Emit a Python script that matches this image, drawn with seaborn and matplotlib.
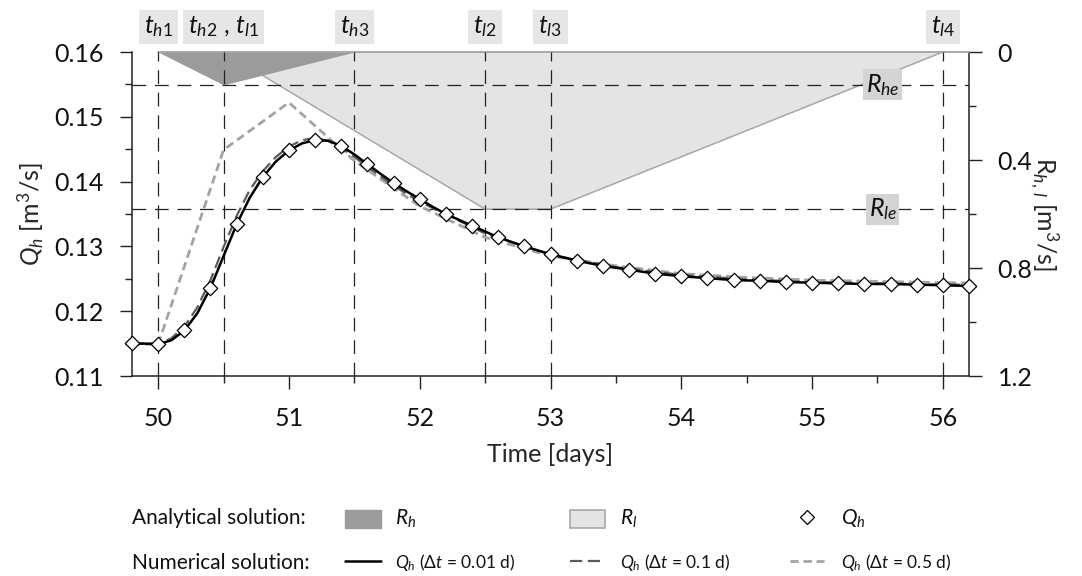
import numpy as np
import pandas as pd
import matplotlib
matplotlib.use("Agg")
import matplotlib.pyplot as plt
import seaborn as sns
from matplotlib.patches import Patch
from matplotlib.lines import Line2D
from matplotlib.transforms import blended_transform_factory

# ---------------- data ----------------
# event times (days) and their labels
t_events = [50.0, 50.5, 51.5, 52.5, 53.0, 56.0]
event_labels = [r"$t_{h1}$", r"$t_{h2}$ , $t_{l1}$", r"$t_{h3}$", r"$t_{l2}$", r"$t_{l3}$", r"$t_{l4}$"]

# thresholds on the R axis
R_he = 0.122
R_le = 0.582

# analytical R_h and R_l polygons (right axis, m3/s)
t_Rh = [50.0, 50.5, 51.5]
R_h = [0.0, R_he, 0.0]
t_Rl = [50.5, 52.5, 53.0, 56.0]
R_l = [0.0, R_le, R_le, 0.0]

# analytical Q_h (diamonds)
t_mark = [49.8, 50.0, 50.2, 50.4, 50.6, 50.8, 51.0, 51.2, 51.4, 51.6, 51.8, 52.0,
          52.2, 52.4, 52.6, 52.8, 53.0, 53.2, 53.4, 53.6, 53.8, 54.0, 54.2, 54.4,
          54.6, 54.8, 55.0, 55.2, 55.4, 55.6, 55.8, 56.0, 56.2]
q_mark = [0.1151, 0.1149, 0.1171, 0.1236, 0.1334, 0.1407, 0.1448, 0.1464, 0.1455,
          0.1427, 0.1398, 0.1373, 0.1350, 0.1332, 0.1314, 0.1300, 0.1288, 0.1278,
          0.1270, 0.1264, 0.1258, 0.1254, 0.1251, 0.1248, 0.1247, 0.1245, 0.1244,
          0.1243, 0.1242, 0.1242, 0.1241, 0.1240, 0.1239]

# numerical Q_h, dt = 0.01 d
t_q001 = [49.8, 49.9, 50.0, 50.1, 50.2, 50.3, 50.4, 50.5, 50.6, 50.7, 50.8, 50.9,
          51.0, 51.1, 51.2, 51.3, 51.4, 51.5, 51.6, 51.7, 51.8, 51.9, 52.0, 52.1,
          52.2, 52.3, 52.4, 52.5, 52.6, 52.8, 53.0, 53.2, 53.4, 53.6, 53.8, 54.0,
          54.2, 54.4, 54.6, 54.8, 55.0, 55.2, 55.4, 55.6, 55.8, 56.0, 56.2]
q_001 = [0.1150, 0.1150, 0.1149, 0.1155, 0.1170, 0.1197, 0.1236, 0.1285, 0.1334,
         0.1375, 0.1407, 0.1431, 0.1448, 0.1459, 0.1464, 0.1463, 0.1455, 0.1442,
         0.1427, 0.1412, 0.1398, 0.1385, 0.1373, 0.1361, 0.1350, 0.1341, 0.1332,
         0.1323, 0.1314, 0.1300, 0.1288, 0.1278, 0.1270, 0.1264, 0.1258, 0.1254,
         0.1251, 0.1248, 0.1247, 0.1245, 0.1244, 0.1243, 0.1242, 0.1242, 0.1241,
         0.1240, 0.1239]

# numerical Q_h, dt = 0.1 d
t_q01 = [49.8, 49.9, 50.0, 50.1, 50.2, 50.3, 50.4, 50.5, 50.6, 50.7, 50.8, 50.9,
         51.0, 51.1, 51.2, 51.3, 51.4, 51.5, 51.6, 51.7, 51.8, 51.9, 52.0, 52.5,
         53.0, 53.5, 54.0, 54.5, 55.0, 55.5, 56.0, 56.2]
q_01 = [0.1150, 0.1150, 0.1150, 0.1158, 0.1176, 0.1206, 0.1248, 0.1299, 0.1347,
        0.1387, 0.1416, 0.1438, 0.1454, 0.1464, 0.1467, 0.1463, 0.1452, 0.1438,
        0.1423, 0.1408, 0.1394, 0.1381, 0.1369, 0.1320, 0.1287, 0.1268, 0.1256,
        0.1249, 0.1245, 0.1243, 0.1241, 0.1241]

# numerical Q_h, dt = 0.5 d
t_q05 = [49.5, 50.0, 50.5, 51.0, 51.5, 52.0, 52.5, 53.0, 53.5, 54.0, 54.5, 55.0,
         55.5, 56.0, 56.5]
q_05 = [0.1150, 0.1149, 0.1449, 0.1522, 0.1432, 0.1362, 0.1314, 0.1285, 0.1270,
        0.1258, 0.1252, 0.1248, 0.1246, 0.1244, 0.1243]

q_ticks = [0.11, 0.12, 0.13, 0.14, 0.15, 0.16]
r_ticks = [0.0, 0.4, 0.8, 1.2]
r_ticklabels = ["0", "0.4", "0.8", "1.2"]
x_ticks = [50, 51, 52, 53, 54, 55, 56]

# ---------------- style ----------------
sns.set_theme(style="ticks")
FONT = "Lato"
plt.rcParams["font.family"] = [FONT, "DejaVu Sans"]
plt.rcParams["mathtext.fontset"] = "custom"
plt.rcParams["mathtext.rm"] = FONT
plt.rcParams["mathtext.it"] = FONT + ":italic"
plt.rcParams["mathtext.bf"] = FONT + ":bold"
plt.rcParams["axes.edgecolor"] = "#222222"
plt.rcParams["text.color"] = "#111111"

C_BLACK = "#000000"
C_DARK = "#5a5a5a"
C_LIGHT = "#a3a3a3"
C_RH = "#9b9b9b"
C_RL = "#e4e4e4"
C_RL_EDGE = "#a8a8a8"
FS = 18

W, H = 1082, 576
fig = plt.figure(figsize=(W / 100, H / 100), dpi=100)
ax = fig.add_axes([132 / W, 1 - 376 / H, (969 - 132) / W, 324 / H])
ax2 = ax.twinx()

# ---------------- right axis: analytical R ----------------
ax2.fill_between(t_Rl, 0, R_l, color=C_RL, lw=0, zorder=1)
ax2.plot(t_Rl, R_l, color=C_RL_EDGE, lw=1.1, zorder=2)
ax2.fill_between(t_Rh, 0, R_h, color=C_RH, lw=0, zorder=3)
ax2.plot([t_events[0], 56.2], [0, 0], color=C_RL_EDGE, lw=1.4, zorder=4, clip_on=False)
ax2.set_ylim(1.2, 0.0)
ax2.set_yticks(r_ticks)
ax2.set_yticklabels(r_ticklabels)
ax2.set_yticks([0.2, 0.6, 1.0], minor=True)
ax2.set_ylabel(r"R$_{h,\,l}$ [m$^3$/s]", fontsize=FS, rotation=270, labelpad=20)

# dashed thresholds
for r in (R_he, R_le):
    ax2.axhline(r, color="#222222", lw=0.9, ls=(0, (11, 7)), zorder=5)

# ---------------- left axis: Q ----------------
ax.set_zorder(ax2.get_zorder() + 1)
ax.patch.set_visible(False)

for t in t_events:
    ax.axvline(t, color="#222222", lw=0.9, ls=(0, (11, 7)), zorder=1)

sns.lineplot(x=t_q05, y=q_05, ax=ax, color=C_LIGHT, lw=2.0,
             linestyle=(0, (3.0, 1.7)), zorder=2)
sns.lineplot(x=t_q01, y=q_01, ax=ax, color=C_DARK, lw=1.6,
             linestyle=(0, (5.5, 2.5)), zorder=3)
sns.lineplot(x=t_q001, y=q_001, ax=ax, color=C_BLACK, lw=1.8, zorder=4)
sns.scatterplot(x=t_mark, y=q_mark, ax=ax, marker="D", s=54, facecolor="white",
                edgecolor="black", linewidth=0.9, zorder=6, clip_on=False)

ax.set_xlim(49.8, 56.2)
ax.set_ylim(0.11, 0.16)
ax.set_xticks(x_ticks)
ax.set_xticks([t + 0.5 for t in x_ticks[:-1]], minor=True)
ax.set_yticks(q_ticks)
ax.set_yticklabels([f"{v:.2f}" for v in q_ticks])
ax.set_yticks([v + 0.005 for v in q_ticks[:-1]], minor=True)
ax.set_xlabel("Time [days]", fontsize=FS, labelpad=10)
ax.set_ylabel(r"$Q_h$ [m$^3$/s]", fontsize=FS, labelpad=6)

for a in (ax, ax2):
    a.tick_params(which="major", direction="out", length=9, width=1.0, labelsize=FS,
                  colors="#222222", labelcolor="#111111", pad=11.5)
    a.tick_params(which="minor", direction="out", length=5, width=1.0, colors="#222222")
    a.spines["top"].set_visible(False)
ax.spines["right"].set_visible(False)
ax2.spines["left"].set_visible(False)
ax2.spines["bottom"].set_visible(False)
for s in ("left", "bottom"):
    ax.spines[s].set_linewidth(1.1)
ax2.spines["right"].set_linewidth(1.1)
ax.tick_params(axis="x", pad=13)

# event labels above the plot
trans = blended_transform_factory(ax.transData, fig.transFigure)
for t, lab in zip(t_events, event_labels):
    ax.text(t, 1 - 27 / H, lab, transform=trans, ha="center", va="center", fontsize=FS,
            bbox=dict(boxstyle="square,pad=0.2", fc="#e6e6e6", ec="none"))

# threshold labels
for r, lab in ((R_he, r"$R_{he}$"), (R_le, r"$R_{le}$")):
    ax2.text(55.54, r, lab, ha="center", va="center", fontsize=FS, zorder=7,
             bbox=dict(boxstyle="square,pad=0.1", fc="#d4d4d4", ec="none"))

# ---------------- legend ----------------
fig.text(132 / W, 1 - 518 / H, "Analytical solution:", fontsize=15, va="center", ha="left")
fig.text(132 / W, 1 - 563 / H, "Numerical solution:", fontsize=15, va="center", ha="left")

columns = [
    (345, 2.1, 0.8, [Patch(fc=C_RH, ec=C_RH), Line2D([], [], color=C_BLACK, lw=1.8)],
     [r"$R_h$", r"$Q_h$ ($\Delta t$ = 0.01 d)"]),
    (570, 2.0, 0.9, [Patch(fc=C_RL, ec=C_RL_EDGE, lw=1.2),
                     Line2D([], [], color=C_DARK, lw=1.6, ls=(0, (5.5, 2.5)))],
     [r"$R_l$", r"$Q_h$ ($\Delta t$ = 0.1 d)"]),
    (790, 1.95, 1.0, [Line2D([], [], ls="none", marker="D", ms=7.2, mfc="white",
                             mec="black", mew=0.9),
                      Line2D([], [], color=C_LIGHT, lw=2.0, ls=(0, (3.0, 1.7)))],
     [r"$Q_h$", r"$Q_h$ ($\Delta t$ = 0.5 d)"]),
]
for x0, hl, htp, handles, labels in columns:
    leg = fig.legend(handles, labels, loc="center left",
                     bbox_to_anchor=(x0 / W, 1 - 540.5 / H), frameon=False, fontsize=12.5,
                     handlelength=hl, handleheight=1.2, handletextpad=htp,
                     labelspacing=1.3, borderpad=0, borderaxespad=0)
    leg.get_texts()[0].set_fontsize(15)

fig.savefig("out.png", dpi=100)
